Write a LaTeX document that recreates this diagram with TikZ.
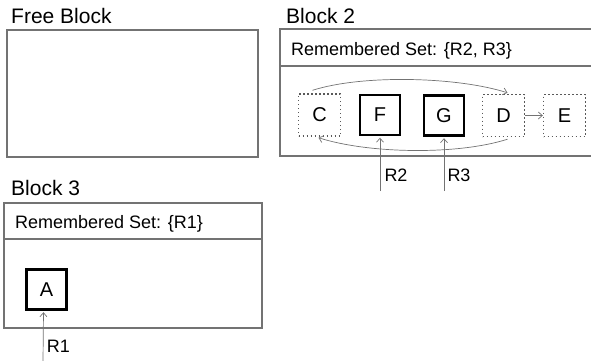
\documentclass[tikz,border=0pt]{standalone}
\usepackage{fontspec}
\setmainfont{Liberation Sans}
\usetikzlibrary{arrows.meta}

\begin{document}
\begin{tikzpicture}[x=1pt,y=-1pt]
	\tikzstyle{block} = [draw=black!55, line width=1.1pt];
	\tikzstyle{title} = [anchor=base west, inner sep=0pt, font=\fontsize{21}{24}\selectfont];
	\tikzstyle{remset} = [anchor=base west, inner sep=0pt, font=\fontsize{18}{21}\selectfont];
	\tikzstyle{live} = [rectangle, draw, line width=2.4pt, minimum size=40pt, inner sep=0pt, font=\fontsize{20}{24}\selectfont];
	\tikzstyle{dead} = [rectangle, draw=black!65, line width=1.4pt, dash pattern=on 1.4pt off 2.6pt, minimum size=42pt, inner sep=0pt, font=\fontsize{20}{24}\selectfont];
	\tikzstyle{ptr} = [draw=black!55, line width=0.7pt, -{Straight Barb[length=4pt,width=7pt]}];
	\tikzstyle{reflabel} = [inner sep=0pt, font=\fontsize{18}{22}\selectfont];
	
	\useasboundingbox (0,0) rectangle (591,360);
	
	% free block
	\node[title] (tfree) at (11,23) {Free Block};
	\draw[block] (7,30) rectangle (258,157);
	
	% block 2
	\node[title] (tb2) at (286,23) {Block 2};
	\draw[block] (280,29) rectangle (600,156);
	\draw[block] (280,66) -- (600,66);
	\node[remset] (rs2) at (291,55) {Remembered Set: \{R2, R3\}};
	
	\node[dead] (C) at (319.5,115) {C};
	\node[live] (F) at (380,115) {F};
	\node[live] (G) at (444,115.5) {G};
	\node[dead] (D) at (503.5,115.5) {D};
	\node[dead] (E) at (564.5,115.5) {E};
	
	\draw[ptr] ([shift={(-7,-3)}]C.north) .. controls +(50,-16) and +(-50,-16) .. ([shift={(4,-1)}]D.north);
	\draw[ptr] ([shift={(4,2)}]D.south) .. controls +(-50,16) and +(50,16) .. ([shift={(-1,1)}]C.south);
	\draw[ptr] (D.east) -- (E.west);
	
	\coordinate (r2) at (380,191);
	\coordinate (r3) at (444,191);
	\draw[ptr, shorten >=1.5pt] (r2) -- (F.south);
	\draw[ptr, shorten >=1.5pt] (r3) -- (G.south);
	\node[reflabel] (lr2) at (396,175) {R2};
	\node[reflabel] (lr3) at (459,175) {R3};
	
	% block 3
	\node[title] (tb3) at (11,195) {Block 3};
	\draw[block] (4,203) rectangle (262,328);
	\draw[block] (4,239) -- (262,239);
	\node[remset] (rs3) at (15,228) {Remembered Set: \{R1\}};
	
	\node[live] (A) at (46.5,289.5) {A};
	
	\coordinate (r1) at (43,362);
	\draw[ptr, shorten >=1.5pt] (r1) -- ([xshift=-3]A.south);
	\node[reflabel] (lr1) at (58.5,346.5) {R1};
\end{tikzpicture}
\end{document}
